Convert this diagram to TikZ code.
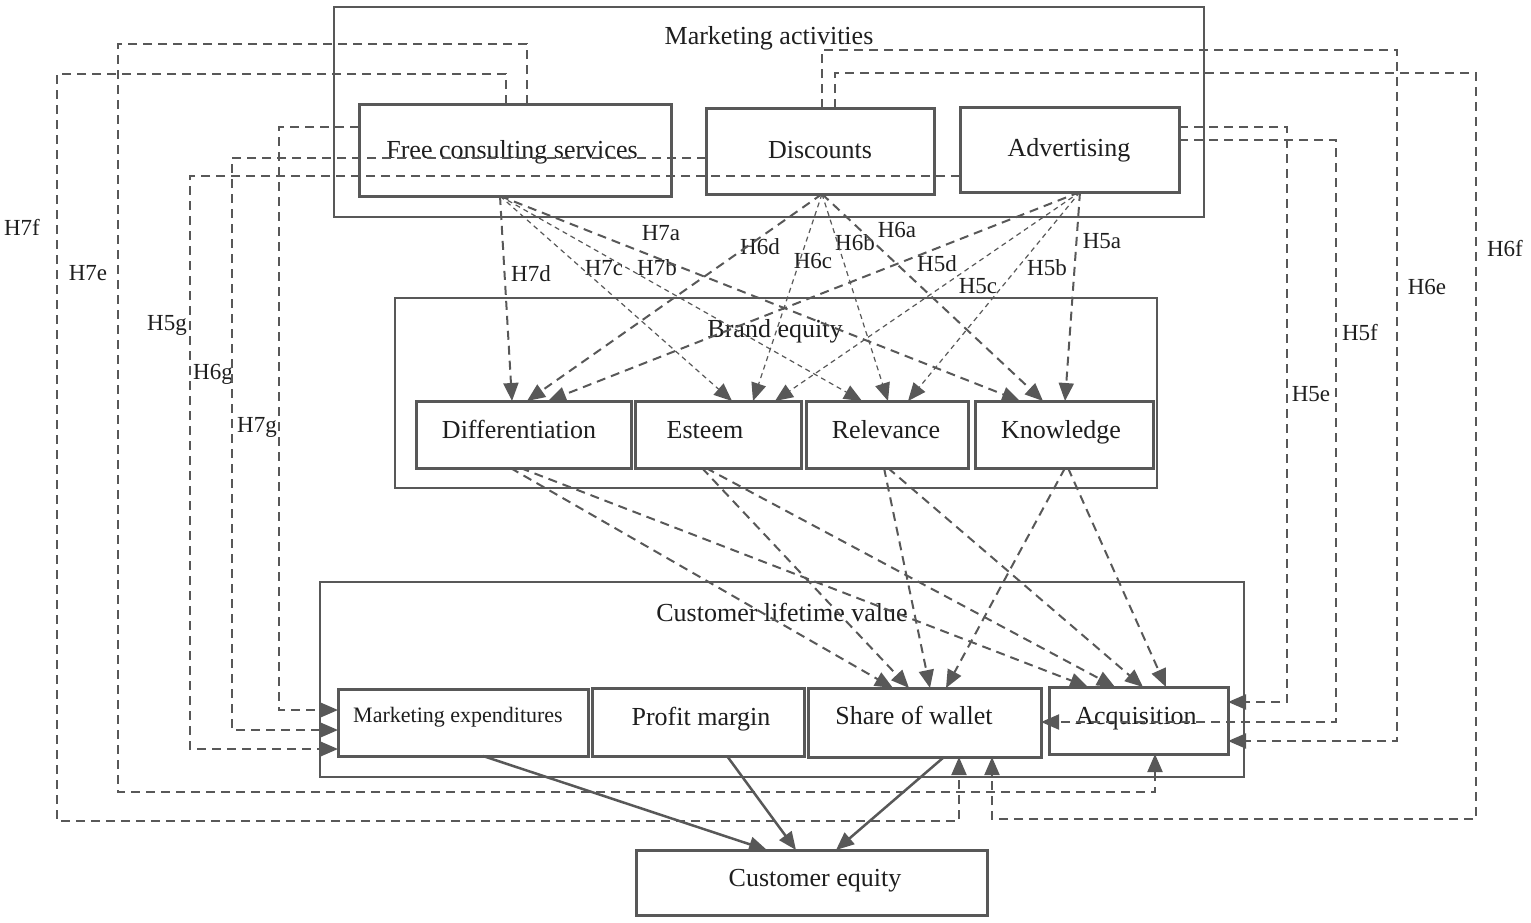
\documentclass[tikz,border=0pt]{standalone}
\usepackage{fontspec}
\setmainfont{Liberation Serif}
\usetikzlibrary{arrows.meta}
\definecolor{lc}{RGB}{88,88,88}
\definecolor{tc}{RGB}{30,30,30}
\begin{document}
\begin{tikzpicture}[x=1pt,y=-1pt,
  box/.style={draw=lc,line width=3pt,inner sep=0pt,outer sep=0pt},
  grp/.style={draw=lc,line width=2.5pt,inner sep=0pt,outer sep=0pt},
  txt/.style={text=tc,inner sep=0pt,anchor=base,font=\fontsize{26}{30}\selectfont},
  smalltxt/.style={text=tc,inner sep=0pt,anchor=base,font=\fontsize{22}{26}\selectfont},
  hyp/.style={text=tc,inner sep=0pt,anchor=base,font=\fontsize{23}{27}\selectfont},
  tip/.style={-{Triangle[length=18pt,width=15pt]}},
  thk/.style={draw=lc,line width=2pt,dash pattern=on 9pt off 6pt,tip},
  thn/.style={draw=lc,line width=1.2pt,dash pattern=on 5pt off 4pt,tip},
  elb/.style={draw=lc,line width=2pt,dash pattern=on 9pt off 6pt,tip},
  sol/.style={draw=lc,line width=2.5pt,tip}]
\useasboundingbox (0,0) rectangle (1531,922);

% group boxes
\node[grp,minimum width=870pt,minimum height=210pt] (ma) at (769,112) {};
\node[grp,minimum width=762pt,minimum height=190pt] (be) at (776,393) {};
\node[grp,minimum width=924pt,minimum height=195pt] (clv) at (782,679.5) {};

% boxes
\node[box,minimum width=312pt,minimum height=92pt] (fcs) at (515,150) {};
\node[box,minimum width=228pt,minimum height=86pt] (dis) at (820,151) {};
\node[box,minimum width=219pt,minimum height=85pt] (adv) at (1069.5,149.5) {};
\node[box,minimum width=215pt,minimum height=67pt] (dif) at (523.5,434.5) {};
\node[box,minimum width=166pt,minimum height=67pt] (est) at (718,434.5) {};
\node[box,minimum width=162pt,minimum height=67pt] (rel) at (887,434.5) {};
\node[box,minimum width=178pt,minimum height=67pt] (kno) at (1064,434.5) {};
\node[box,minimum width=250pt,minimum height=67pt] (me) at (463,722.5) {};
\node[box,minimum width=212pt,minimum height=68pt] (pm) at (698,722) {};
\node[box,minimum width=233pt,minimum height=69pt] (sow) at (924.5,722.5) {};
\node[box,minimum width=179pt,minimum height=67pt] (acq) at (1138.5,720.5) {};
\node[box,minimum width=351pt,minimum height=65pt] (ce) at (811.5,882.5) {};

% texts
\node[txt] (tma) at (769,44.5) {Marketing activities};
\node[txt] (tfcs) at (512,158.5) {Free consulting services};
\node[txt] (tdis) at (820,158.5) {Discounts};
\node[txt] (tadv) at (1069,156.5) {Advertising};
\node[txt] (tbe) at (775,337.5) {Brand equity};
\node[txt] (tdif) at (519,438.5) {Differentiation};
\node[txt] (test) at (705,438.5) {Esteem};
\node[txt] (trel) at (886,438.5) {Relevance};
\node[txt] (tkno) at (1061,438.5) {Knowledge};
\node[txt] (tclv) at (782,621.5) {Customer lifetime value};
\node[smalltxt] (tme) at (458,722.5) {Marketing expenditures};
\node[txt] (tpm) at (701,725.5) {Profit margin};
\node[txt] (tsow) at (914,724.5) {Share of wallet};
\node[txt] (tacq) at (1136,724.5) {Acquisition};
\node[txt] (tce) at (815,886.5) {Customer equity};

% hypothesis labels
\node[hyp] (l7f) at (22,235) {H7f};
\node[hyp] (l7e) at (88,280) {H7e};
\node[hyp] (l5g) at (167,330) {H5g};
\node[hyp] (l6g) at (213,379) {H6g};
\node[hyp] (l7g) at (257,432) {H7g};
\node[hyp] (l7a) at (661,240) {H7a};
\node[hyp] (l7d) at (531,281) {H7d};
\node[hyp] (l7c) at (604,275) {H7c};
\node[hyp] (l7b) at (657,275) {H7b};
\node[hyp] (l6d) at (760,254) {H6d};
\node[hyp] (l6c) at (813,268) {H6c};
\node[hyp] (l6b) at (855,250) {H6b};
\node[hyp] (l6a) at (897,237) {H6a};
\node[hyp] (l5d) at (937,271) {H5d};
\node[hyp] (l5c) at (978,293) {H5c};
\node[hyp] (l5b) at (1047,275) {H5b};
\node[hyp] (l5a) at (1102,248) {H5a};
\node[hyp] (l6f) at (1505,256) {H6f};
\node[hyp] (l6e) at (1427,294) {H6e};
\node[hyp] (l5f) at (1360,340) {H5f};
\node[hyp] (l5e) at (1311,401) {H5e};

% marketing activities -> brand equity
\draw[thk] ([xshift=-15pt]fcs.south) -- ([xshift=-11.5pt]dif.north);
\draw[thn] ([xshift=-15pt]fcs.south) -- ([xshift=14pt]est.north);
\draw[thn] ([xshift=-15pt]fcs.south) -- ([xshift=-25pt]rel.north);
\draw[thk] ([xshift=-15pt]fcs.south) -- ([xshift=-44pt]kno.north);

\draw[thk] ([xshift=2pt]dis.south) -- ([xshift=3.5pt]dif.north);
\draw[thn] ([xshift=2pt]dis.south) -- ([xshift=35pt]est.north);
\draw[thn] ([xshift=2pt]dis.south) -- ([xshift=1pt]rel.north);
\draw[thk] ([xshift=2pt]dis.south) -- ([xshift=-21pt]kno.north);

\draw[thk] ([xshift=10.5pt]adv.south) -- ([xshift=24.5pt]dif.north);
\draw[thn] ([xshift=10.5pt]adv.south) -- ([xshift=57pt]est.north);
\draw[thn] ([xshift=10.5pt]adv.south) -- ([xshift=21pt]rel.north);
\draw[thk] ([xshift=10.5pt]adv.south) -- ([xshift=1pt]kno.north);

% brand equity -> CLV
\draw[thk] ([xshift=-13pt]dif.south) -- ([xshift=-31.5pt]sow.north);
\draw[thk] ([xshift=-3pt]dif.south) -- ([xshift=-50.5pt]acq.north);
\draw[thk] ([xshift=-16pt]est.south) -- ([xshift=-15.5pt]sow.north);
\draw[thk] ([xshift=-12pt]est.south) -- ([xshift=-23.5pt]acq.north);
\draw[thk] ([xshift=-3pt]rel.south) -- ([xshift=5.5pt]sow.north);
\draw[thk] ([xshift=1pt]rel.south) -- ([xshift=4.5pt]acq.north);
\draw[thk] ([xshift=1pt]kno.south) -- ([xshift=21.5pt]sow.north);
\draw[thk] ([xshift=4pt]kno.south) -- ([xshift=27.5pt]acq.north);

% CLV -> customer equity
\draw[sol] ([xshift=20pt]me.south) -- ([xshift=-44.5pt]ce.north);
\draw[sol] ([xshift=29pt]pm.south) -- ([xshift=-15.5pt]ce.north);
\draw[sol] ([xshift=19.5pt]sow.south) -- ([xshift=24.5pt]ce.north);

% elbow connectors
\draw[elb] ([xshift=12pt]fcs.north) |- (118,44) |- (1155,792) -- ([xshift=16.5pt]acq.south);
\draw[elb] ([xshift=-9pt]fcs.north) |- (57,74) |- (959,821) -- ([xshift=34.5pt]sow.south);
\draw[elb] ([yshift=23pt]fcs.west) -| (279,710) -- ([yshift=12.5pt]me.west);
\draw[elb] ([yshift=-7pt]dis.west) -| (232,730) -- ([yshift=-7.5pt]me.west);
\draw[elb] ([yshift=-26.5pt]adv.west) -| (190,749) -- ([yshift=-26.5pt]me.west);
\draw[elb] ([xshift=2pt]dis.north) |- (1397,50) |- ([yshift=-20.5pt]acq.east);
\draw[elb] ([xshift=15pt]dis.north) |- (1476,73) |- (992,819) -- ([xshift=67.5pt]sow.south);
\draw[elb] ([yshift=22.5pt]adv.east) -| (1287,702) -- ([yshift=18.5pt]acq.east);
\draw[elb] ([yshift=9.5pt]adv.east) -| (1336,722) -- ([yshift=0.5pt]sow.east);
\end{tikzpicture}
\end{document}
